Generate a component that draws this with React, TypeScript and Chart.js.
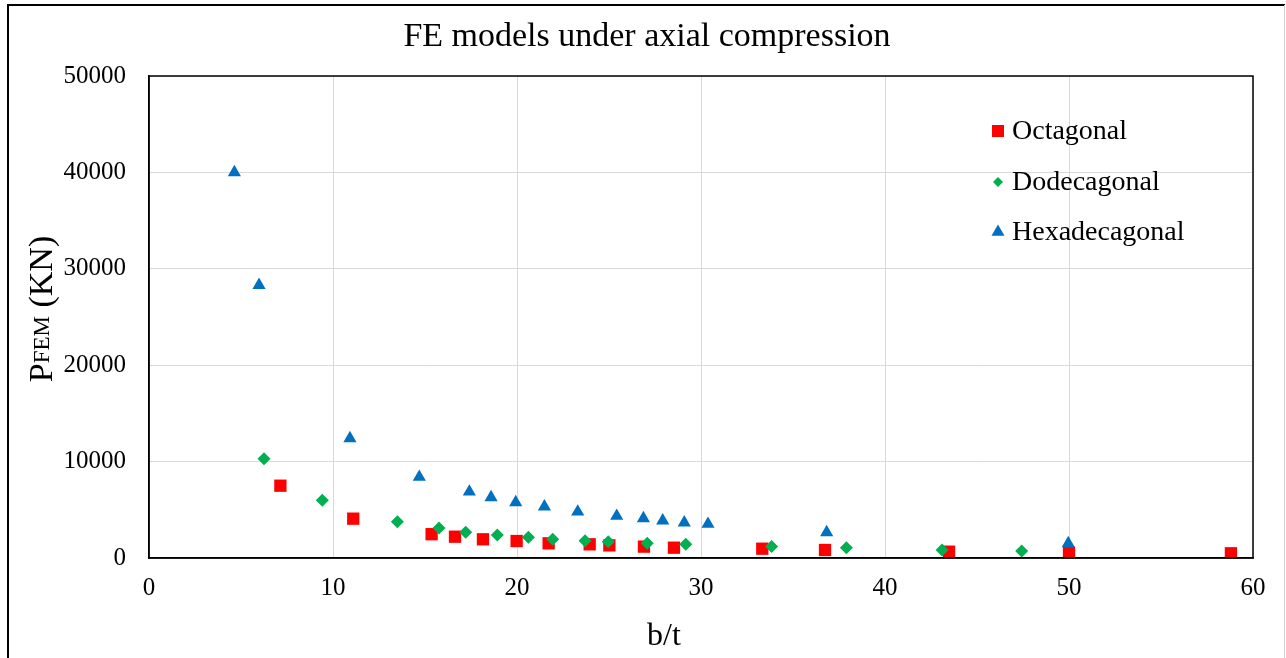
import React, { useEffect, useRef } from "react";
import { Chart, registerables } from "chart.js";

Chart.register(...registerables);

const TITLE = "FE models under axial compression";
const X_LABEL = "b/t";
const Y_LABEL_MAIN = "P";
const Y_LABEL_SUB = "FEM";
const Y_LABEL_TAIL = " (KN)";

const seriesNames = ["Octagonal", "Dodecagonal", "Hexadecagonal"];
const seriesColors = ["#FF0000", "#00B050", "#0070C0"];

const octagonalX = [7.14, 11.1, 15.36, 16.63, 18.15, 19.98, 21.72, 23.95, 25.02, 26.9, 28.53, 33.33, 36.74, 43.48, 50.0, 58.8];
const octagonalY = [7500, 4080, 2470, 2210, 1940, 1760, 1520, 1420, 1310, 1180, 1070, 965, 830, 655, 550, 490];

const dodecagonalX = [6.25, 9.42, 13.5, 15.76, 17.21, 18.93, 20.62, 21.94, 23.7, 24.96, 27.08, 29.17, 33.84, 37.9, 43.1, 47.43];
const dodecagonalY = [10300, 6000, 3760, 3100, 2660, 2390, 2150, 1940, 1800, 1690, 1520, 1420, 1180, 1070, 830, 725];

const hexadecagonalX = [4.64, 5.98, 10.92, 14.69, 17.41, 18.59, 19.93, 21.49, 23.3, 25.42, 26.87, 27.92, 29.09, 30.38, 36.83, 49.96];
const hexadecagonalY = [40000, 28300, 12400, 8400, 6870, 6280, 5770, 5320, 4800, 4350, 4110, 3870, 3660, 3520, 2650, 1510];

const xTicks = [0, 10, 20, 30, 40, 50, 60];
const yTicks = [0, 10000, 20000, 30000, 40000, 50000];

const FONT = "'Liberation Serif', 'Times New Roman', serif";

function toPoints(xs: number[], ys: number[]) {
  return xs.map((x, i) => ({ x, y: ys[i] }));
}

const decorPlugin = {
  id: "decor",
  beforeDraw(chart: any) {
    const ctx = chart.ctx;
    ctx.save();
    ctx.fillStyle = "#ffffff";
    ctx.fillRect(0, 0, chart.width, chart.height);
    ctx.strokeStyle = "#000";
    ctx.lineWidth = 2;
    ctx.beginPath();
    ctx.moveTo(8, 700);
    ctx.lineTo(8, 5);
    ctx.lineTo(1285, 5);
    ctx.stroke();
    ctx.strokeStyle = "#d0d0d0";
    ctx.lineWidth = 1;
    ctx.beginPath();
    ctx.moveTo(1284.5, 5);
    ctx.lineTo(1284.5, 700);
    ctx.stroke();
    ctx.restore();
  },
  afterDraw(chart: any) {
    const ctx = chart.ctx;
    const a = chart.chartArea;
    ctx.save();
    ctx.strokeStyle = "#000";
    ctx.lineWidth = 1.5;
    ctx.strokeRect(a.left, a.top, a.right - a.left, a.bottom - a.top);

    ctx.fillStyle = "#000";
    ctx.font = `34px ${FONT}`;
    ctx.textAlign = "center";
    ctx.textBaseline = "alphabetic";
    ctx.fillText(TITLE, 647, 46);

    ctx.font = `32px ${FONT}`;
    ctx.fillText(X_LABEL, 664, 645);

    ctx.save();
    ctx.translate(52, 309);
    ctx.rotate(-Math.PI / 2);
    const mainFont = `34px ${FONT}`;
    const subFont = `23px ${FONT}`;
    ctx.font = mainFont;
    const wMain = ctx.measureText(Y_LABEL_MAIN).width;
    const wTail = ctx.measureText(Y_LABEL_TAIL).width;
    ctx.font = subFont;
    const wSub = ctx.measureText(Y_LABEL_SUB).width;
    const total = wMain + wSub + wTail;
    let x0 = -total / 2;
    ctx.textAlign = "left";
    ctx.font = mainFont;
    ctx.fillText(Y_LABEL_MAIN, x0, 0);
    x0 += wMain;
    ctx.font = subFont;
    ctx.fillText(Y_LABEL_SUB, x0, -3);
    x0 += wSub;
    ctx.font = mainFont;
    ctx.fillText(Y_LABEL_TAIL, x0, 0);
    ctx.restore();

    const rows = [131, 182, 232];
    const styles = ["rect", "rectRot", "triangle"];
    const radii = [8.5, 5, 7.5];
    ctx.font = `28px ${FONT}`;
    ctx.textAlign = "left";
    ctx.textBaseline = "alphabetic";
    seriesNames.forEach((name, i) => {
      ctx.fillStyle = seriesColors[i];
      ctx.beginPath();
      const cx = 998;
      const cy = rows[i];
      const r = radii[i];
      if (styles[i] === "rect") {
        const s = Math.SQRT1_2 * r;
        ctx.rect(cx - s, cy - s, 2 * s, 2 * s);
      } else if (styles[i] === "rectRot") {
        ctx.moveTo(cx - r, cy);
        ctx.lineTo(cx, cy - r);
        ctx.lineTo(cx + r, cy);
        ctx.lineTo(cx, cy + r);
        ctx.closePath();
      } else {
        ctx.moveTo(cx, cy - r);
        ctx.lineTo(cx + r * 0.866, cy + r / 2);
        ctx.lineTo(cx - r * 0.866, cy + r / 2);
        ctx.closePath();
      }
      ctx.fill();
      ctx.fillStyle = "#000";
      ctx.fillText(name, 1012, cy + 8);
    });
    ctx.restore();
  },
};

export default function App() {
  const canvasRef = useRef<HTMLCanvasElement | null>(null);

  useEffect(() => {
    const canvas = canvasRef.current;
    if (!canvas) return;
    const chart = new Chart(canvas, {
      type: "scatter",
      data: {
        datasets: [
          {
            label: seriesNames[0],
            data: toPoints(octagonalX, octagonalY),
            pointStyle: "rect",
            pointRadius: 8.7,
            backgroundColor: seriesColors[0],
            borderColor: seriesColors[0],
            borderWidth: 0,
            order: 3,
          },
          {
            label: seriesNames[1],
            data: toPoints(dodecagonalX, dodecagonalY),
            pointStyle: "rectRot",
            pointRadius: 6.5,
            backgroundColor: seriesColors[1],
            borderColor: seriesColors[1],
            borderWidth: 0,
            order: 2,
          },
          {
            label: seriesNames[2],
            data: toPoints(hexadecagonalX, hexadecagonalY),
            pointStyle: "triangle",
            pointRadius: 7.6,
            backgroundColor: seriesColors[2],
            borderColor: seriesColors[2],
            borderWidth: 0,
            order: 1,
          },
        ],
      },
      options: {
        responsive: false,
        animation: false,
        devicePixelRatio: 1,
        layout: { padding: { top: 76, right: 33, left: 0, bottom: 0 } },
        plugins: {
          legend: { display: false },
          title: { display: false },
          tooltip: { enabled: false },
        },
        scales: {
          x: {
            type: "linear",
            min: xTicks[0],
            max: xTicks[xTicks.length - 1],
            afterBuildTicks: (s: any) => {
              s.ticks = xTicks.map((v) => ({ value: v }));
            },
            afterFit: (s: any) => {
              s.height = 100;
            },
            grid: { color: "#d9d9d9", lineWidth: 1, drawTicks: false },
            border: { color: "#000", width: 1.5 },
            ticks: {
              padding: 15,
              color: "#000",
              font: { family: FONT, size: 25 },
              maxRotation: 0,
              callback: (v: any) => String(v),
            },
          },
          y: {
            type: "linear",
            min: yTicks[0],
            max: yTicks[yTicks.length - 1],
            afterBuildTicks: (s: any) => {
              s.ticks = yTicks.map((v) => ({ value: v }));
            },
            afterFit: (s: any) => {
              s.width = 149;
            },
            grid: { color: "#d9d9d9", lineWidth: 1, drawTicks: false },
            border: { color: "#000", width: 1.5 },
            ticks: {
              padding: 23,
              color: "#000",
              font: { family: FONT, size: 25 },
              callback: (v: any) => String(v),
            },
          },
        },
      },
      plugins: [decorPlugin],
    });
    return () => chart.destroy();
  }, []);

  return (
    <div style={{ position: "fixed", left: 0, top: 0, width: 1286, height: 658, overflow: "hidden", background: "#fff" }}>
      <canvas ref={canvasRef} width={1286} height={658} style={{ display: "block" }} />
    </div>
  );
}
